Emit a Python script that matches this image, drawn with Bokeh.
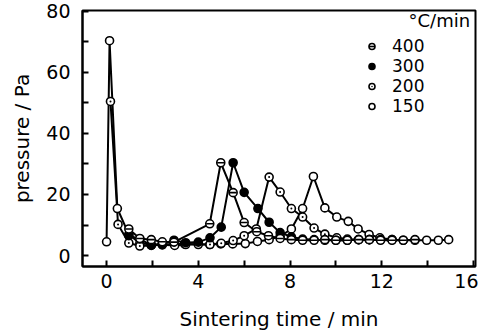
from bokeh.plotting import figure
from bokeh.models import FixedTicker, Legend, LegendItem, Label, Range1d
from bokeh.embed import file_html
from bokeh.resources import INLINE

# ---- data ----
time_400 = [0.97, 1.45, 1.95, 2.43, 2.94, 4.5, 4.98, 5.52, 6.0, 6.55, 7.06, 7.57, 8.06, 8.55,
            9.05, 9.52, 10.0, 10.5, 11.0, 11.46, 11.95, 12.45, 12.94, 13.45]
p_400 = [8.7, 5.6, 5.2, 4.5, 4.4, 10.4, 30.4, 20.6, 10.8, 7.8, 6.5, 5.6, 5.2, 5.0,
         5.0, 5.2, 5.0, 5.0, 5.2, 5.2, 5.0, 5.0, 5.0, 5.2]

time_300 = [0.97, 1.45, 1.95, 2.43, 2.94, 3.45, 4.0, 4.51, 5.0, 5.52, 6.0, 6.6, 7.09, 7.57,
            8.06, 8.55, 9.05, 9.52, 10.0, 10.5, 10.98, 11.46]
p_300 = [6.5, 5.4, 3.4, 3.8, 5.0, 4.2, 4.4, 5.8, 9.3, 30.4, 20.7, 15.4, 10.9, 7.5,
         6.1, 5.4, 5.2, 5.0, 5.0, 5.0, 5.2, 5.2]

time_200 = [0.17, 0.5, 0.97, 1.45, 1.95, 2.43, 2.97, 3.45, 4.0, 4.51, 5.0, 5.52, 6.0, 6.53,
            7.09, 7.57, 8.06, 8.55, 9.05, 9.52, 10.04, 10.5, 11.0, 11.46, 11.95, 12.45]
p_200 = [50.5, 10.2, 4.1, 3.1, 3.3, 3.5, 3.3, 3.6, 3.6, 3.6, 4.0, 4.9, 6.5, 8.7,
         25.7, 20.8, 15.4, 12.6, 9.0, 7.0, 5.8, 5.4, 5.2, 5.2, 5.2, 5.2]

time_150 = [0.0, 0.13, 0.47, 0.97, 1.45, 1.95, 2.43, 2.95, 3.4, 4.5, 4.98, 5.5, 6.05, 6.58,
            7.09, 7.57, 8.06, 8.55, 9.02, 9.52, 10.04, 10.54, 10.97, 11.45, 11.92, 12.45,
            12.94, 13.45, 13.96, 14.47, 14.92]
p_150 = [4.5, 70.4, 15.4, 6.9, 4.0, 3.6, 3.6, 3.8, 3.8, 3.6, 3.8, 3.8, 3.9, 4.6,
         5.2, 6.3, 8.7, 15.4, 25.9, 15.6, 12.6, 11.2, 8.7, 6.9, 5.8, 5.2,
         5.0, 5.0, 5.0, 5.0, 5.2]

rate_labels = ["400", "300", "200", "150"]
legend_title = "°C/min"

x_major = [0, 4, 8, 12, 16]
x_minor = [2, 6, 10, 14]
y_major = [0, 20, 40, 60, 80]
y_minor = [10, 30, 50, 70]

FONT = "DejaVu Sans"

p = figure(width=478, height=333, output_backend="svg", toolbar_location=None,
           x_range=Range1d(-1.05, 16.09), y_range=Range1d(-3.6, 80.3),
           min_border_left=82, min_border_right=3, min_border_top=10, min_border_bottom=66)
p.grid.visible = False
p.outline_line_color = "black"
p.outline_line_width = 2
p.background_fill_color = "white"
p.border_fill_color = "white"

for ax in (p.xaxis[0], p.yaxis[0]):
    ax.axis_line_color = "black"
    ax.axis_line_width = 2
    ax.major_tick_in = 6
    ax.major_tick_out = 0
    ax.minor_tick_in = 6
    ax.minor_tick_out = 0
    ax.major_tick_line_width = 2
    ax.minor_tick_line_width = 2
    ax.major_tick_line_color = "black"
    ax.minor_tick_line_color = "black"
    ax.major_label_text_font = FONT
    ax.major_label_text_font_size = "19px"
    ax.major_label_text_color = "black"
    ax.axis_label_text_font = FONT
    ax.axis_label_text_font_size = "20px"
    ax.axis_label_text_font_style = "normal"
    ax.axis_label_text_color = "black"

p.xaxis.ticker = FixedTicker(ticks=x_major, minor_ticks=x_minor)
p.yaxis.ticker = FixedTicker(ticks=y_major, minor_ticks=y_minor)
p.xaxis.axis_label = "Sintering time / min"
p.yaxis.axis_label = "pressure / Pa"
p.xaxis.major_label_standoff = 7
p.yaxis.major_label_standoff = 12
p.xaxis.axis_label_standoff = 16
p.yaxis.axis_label_standoff = 9

LW = 2
MS = 8
OLW = 1.6
series = [(time_400, p_400), (time_300, p_300), (time_200, p_200), (time_150, p_150)]
for xs, ys in series:
    p.line(xs, ys, line_color="black", line_width=LW)

r150 = p.scatter(time_150, p_150, marker="circle", size=MS, fill_color="white",
                 line_color="black", line_width=OLW)
r200 = p.scatter(time_200, p_200, marker="circle_dot", size=MS, fill_color="white",
                 line_color="black", line_width=OLW)
r300 = p.scatter(time_300, p_300, marker="circle", size=MS, fill_color="black",
                 line_color="black", line_width=OLW)
r400a = p.scatter(time_400, p_400, marker="circle", size=MS, fill_color="white",
                  line_color="black", line_width=OLW)
r400b = p.scatter(time_400, p_400, marker="dash", size=MS - 1,
                  line_color="black", line_width=OLW)

legend = Legend(items=[
    LegendItem(label=rate_labels[0], renderers=[r400a, r400b]),
    LegendItem(label=rate_labels[1], renderers=[r300]),
    LegendItem(label=rate_labels[2], renderers=[r200]),
    LegendItem(label=rate_labels[3], renderers=[r150]),
], location=(282, 150), padding=0, margin=0, spacing=0,
    glyph_width=15, glyph_height=20, label_height=20, label_standoff=13,
    label_text_font=FONT, label_text_font_size="17px", label_text_color="black",
    border_line_alpha=0, background_fill_alpha=0)
p.add_layout(legend, "center")

p.add_layout(Label(x=326, y=246, x_units="screen", y_units="screen", text=legend_title,
                   text_font=FONT, text_font_size="18px", text_baseline="middle",
                   text_color="black"))

open("out.html", "w").write(file_html(p, INLINE))
